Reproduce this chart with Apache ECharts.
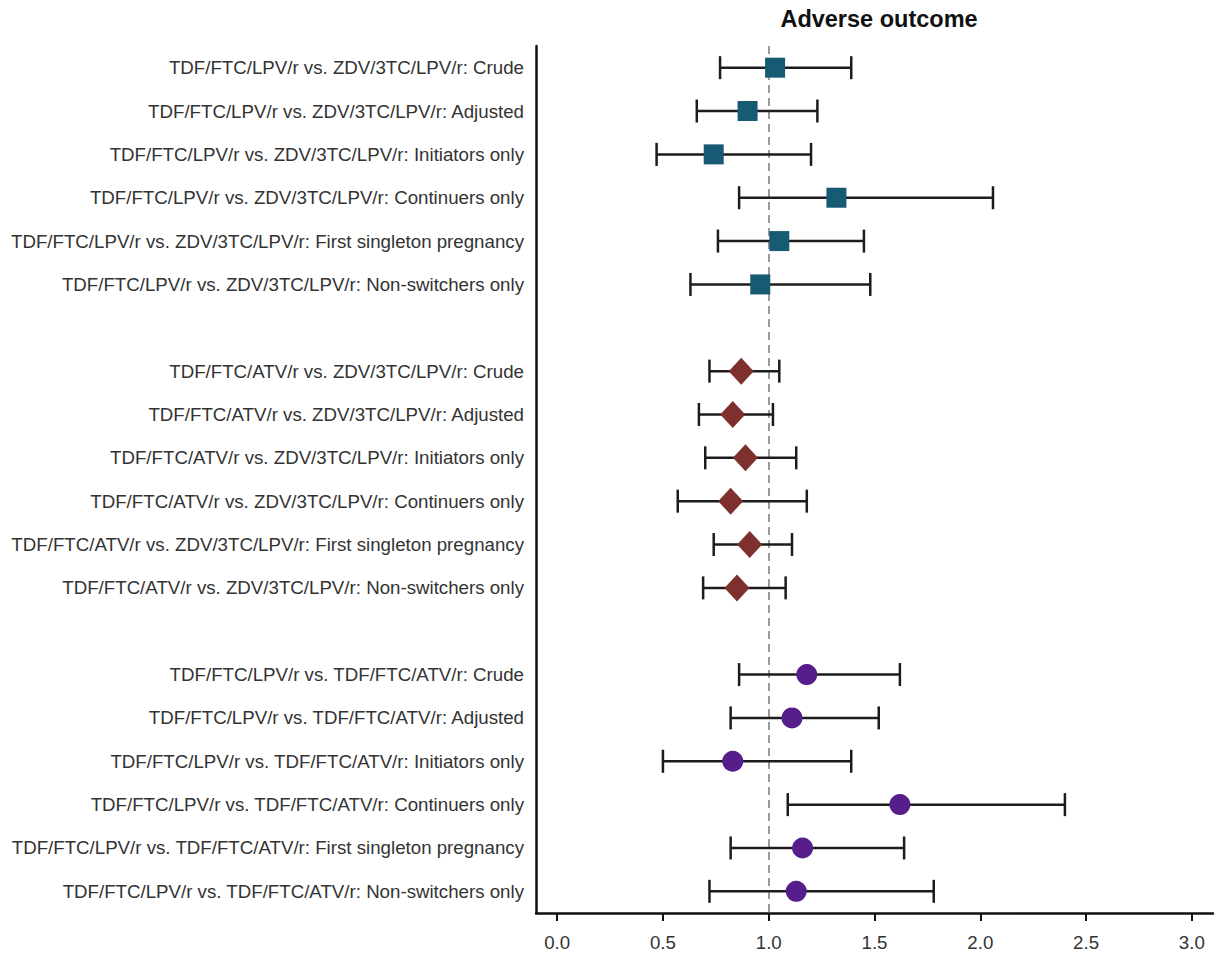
<!DOCTYPE html>
<html>
<head>
<meta charset="utf-8">
<script src="https://cdn.jsdelivr.net/npm/echarts@6/dist/echarts.min.js"></script>
<style>
html,body{margin:0;padding:0;background:#fff;}
#chart{width:1215px;height:956px;}
</style>
</head>
<body>
<div id="chart"></div>
<script>
// ---- Data ----
const labelsLPVvsZDV = [
  "TDF/FTC/LPV/r vs. ZDV/3TC/LPV/r: Crude",
  "TDF/FTC/LPV/r vs. ZDV/3TC/LPV/r: Adjusted",
  "TDF/FTC/LPV/r vs. ZDV/3TC/LPV/r: Initiators only",
  "TDF/FTC/LPV/r vs. ZDV/3TC/LPV/r: Continuers only",
  "TDF/FTC/LPV/r vs. ZDV/3TC/LPV/r: First singleton pregnancy",
  "TDF/FTC/LPV/r vs. ZDV/3TC/LPV/r: Non-switchers only"
];
const estLPVvsZDV = [1.03, 0.90, 0.74, 1.32, 1.05, 0.96];
const lowLPVvsZDV = [0.77, 0.66, 0.47, 0.86, 0.76, 0.63];
const highLPVvsZDV = [1.39, 1.23, 1.20, 2.06, 1.45, 1.48];

const labelsATVvsZDV = [
  "TDF/FTC/ATV/r vs. ZDV/3TC/LPV/r: Crude",
  "TDF/FTC/ATV/r vs. ZDV/3TC/LPV/r: Adjusted",
  "TDF/FTC/ATV/r vs. ZDV/3TC/LPV/r: Initiators only",
  "TDF/FTC/ATV/r vs. ZDV/3TC/LPV/r: Continuers only",
  "TDF/FTC/ATV/r vs. ZDV/3TC/LPV/r: First singleton pregnancy",
  "TDF/FTC/ATV/r vs. ZDV/3TC/LPV/r: Non-switchers only"
];
const estATVvsZDV = [0.87, 0.83, 0.89, 0.82, 0.91, 0.85];
const lowATVvsZDV = [0.72, 0.67, 0.70, 0.57, 0.74, 0.69];
const highATVvsZDV = [1.05, 1.02, 1.13, 1.18, 1.11, 1.08];

const labelsLPVvsATV = [
  "TDF/FTC/LPV/r vs. TDF/FTC/ATV/r: Crude",
  "TDF/FTC/LPV/r vs. TDF/FTC/ATV/r: Adjusted",
  "TDF/FTC/LPV/r vs. TDF/FTC/ATV/r: Initiators only",
  "TDF/FTC/LPV/r vs. TDF/FTC/ATV/r: Continuers only",
  "TDF/FTC/LPV/r vs. TDF/FTC/ATV/r: First singleton pregnancy",
  "TDF/FTC/LPV/r vs. TDF/FTC/ATV/r: Non-switchers only"
];
const estLPVvsATV = [1.18, 1.11, 0.83, 1.62, 1.16, 1.13];
const lowLPVvsATV = [0.86, 0.82, 0.50, 1.09, 0.82, 0.72];
const highLPVvsATV = [1.62, 1.52, 1.39, 2.40, 1.64, 1.78];

const xTickValues = [0, 0.5, 1.0, 1.5, 2.0, 2.5, 3.0];
const referenceValue = 1.0;
const titleText = "Adverse outcome";

// ---- Build ----
const categories = [].concat(labelsLPVvsZDV, [""], labelsATVvsZDV, [" "], labelsLPVvsATV);
const offsets = [0, 7, 14];
const groups = [
  {est: estLPVvsZDV, low: lowLPVvsZDV, high: highLPVvsZDV, symbol: 'rect', size: [20, 20], color: '#175a74'},
  {est: estATVvsZDV, low: lowATVvsZDV, high: highATVvsZDV, symbol: 'diamond', size: [25, 27], color: '#7d302e'},
  {est: estLPVvsATV, low: lowLPVvsATV, high: highLPVvsATV, symbol: 'circle', size: [21, 21], color: '#561d8b'}
];

const errData = [];
groups.forEach((g, gi) => {
  g.est.forEach((v, i) => errData.push([g.low[i], g.high[i], offsets[gi] + i]));
});

const series = [{
  type: 'custom',
  data: errData,
  dimensions: ['low', 'high', 'row'],
  encode: {x: ['low', 'high'], y: 'row'},
  renderItem: function (params, api) {
    const idx = api.value(2);
    const p1 = api.coord([api.value(0), idx]);
    const p2 = api.coord([api.value(1), idx]);
    const h = 11.5;
    const st = {stroke: '#1c1c1c', lineWidth: 2.5, fill: null};
    return {
      type: 'group',
      children: [
        {type: 'line', shape: {x1: p1[0], y1: p1[1], x2: p2[0], y2: p2[1]}, style: st},
        {type: 'line', shape: {x1: p1[0], y1: p1[1] - h, x2: p1[0], y2: p1[1] + h}, style: st},
        {type: 'line', shape: {x1: p2[0], y1: p2[1] - h, x2: p2[0], y2: p2[1] + h}, style: st}
      ]
    };
  },
  z: 2
}];

groups.forEach((g, gi) => {
  const s = {
    type: 'scatter',
    symbol: g.symbol,
    symbolSize: g.size,
    itemStyle: {color: g.color, opacity: 1},
    data: g.est.map((v, i) => [v, offsets[gi] + i]),
    z: 3
  };
  if (gi === 0) {
    s.markLine = {
      silent: true,
      symbol: ['none', 'none'],
      label: {show: false},
      lineStyle: {color: '#9a9a9a', type: [8, 5], width: 2},
      data: [{xAxis: referenceValue}],
      z: 1
    };
  }
  series.push(s);
});

const chart = echarts.init(document.getElementById('chart'), null, {renderer: 'svg'});
chart.setOption({
  animation: false,
  backgroundColor: '#ffffff',
  title: {
    text: titleText,
    left: 874,
    top: 2,
    textAlign: 'center',
    textStyle: {fontFamily: 'Liberation Sans, Arial, sans-serif', fontSize: 23.5, fontWeight: 'bold', color: '#111'}
  },
  grid: {left: 536, right: 2, top: 46, bottom: 43, containLabel: false},
  xAxis: {
    type: 'value',
    min: -0.1,
    max: 3.1,
    axisLine: {show: true, onZero: false, lineStyle: {color: '#111', width: 2.5}},
    axisTick: {show: true, customValues: xTickValues, length: 8, lineStyle: {color: '#111', width: 2}},
    axisLabel: {
      customValues: xTickValues,
      formatter: v => Number(v).toFixed(1),
      fontFamily: 'Liberation Sans, Arial, sans-serif',
      fontSize: 18.7,
      color: '#333',
      margin: 20
    },
    splitLine: {show: false}
  },
  yAxis: {
    type: 'category',
    inverse: true,
    data: categories,
    axisLine: {show: true, onZero: false, lineStyle: {color: '#111', width: 2.5}},
    axisTick: {show: false},
    axisLabel: {
      fontFamily: 'Liberation Sans, Arial, sans-serif',
      fontSize: 18.7,
      color: '#333',
      margin: 12,
      interval: 0
    },
    splitLine: {show: false}
  },
  series: series
});
</script>
</body>
</html>
